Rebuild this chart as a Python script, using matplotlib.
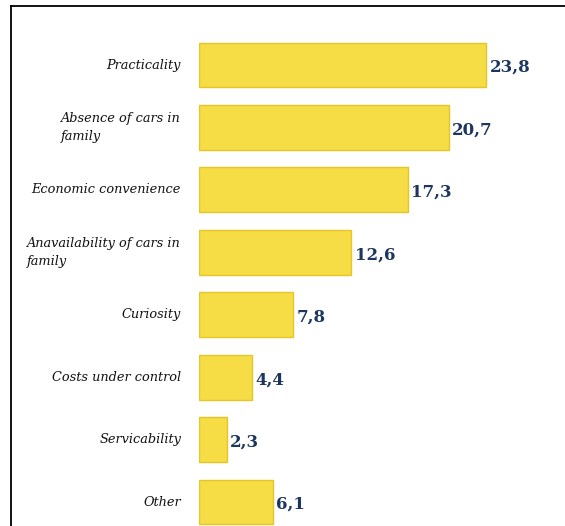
import matplotlib
matplotlib.use("Agg")
import matplotlib.pyplot as plt
from matplotlib.lines import Line2D

categories = [
    "Practicality",
    "Absence of cars in\nfamily",
    "Economic convenience",
    "Anavailability of cars in\nfamily",
    "Curiosity",
    "Costs under control",
    "Servicability",
    "Other",
]
values = [23.8, 20.7, 17.3, 12.6, 7.8, 4.4, 2.3, 6.1]
value_labels = ["23,8", "20,7", "17,3", "12,6", "7,8", "4,4", "2,3", "6,1"]

W, H = 565, 526
fig = plt.figure(figsize=(W / 100, H / 100), dpi=100)

# axes starts where the bars start; scale ~12.06 px per unit
x0 = 199
ax = fig.add_axes([x0 / W, 0, 1 - x0 / W, 1])
ax.set_xlim(0, (W - x0) / 12.06)
step, first = 62.43, 65
ax.set_ylim((H - first) / step, -first / step)
ax.axis("off")

ys = list(range(len(values)))
ax.barh(ys, values, height=0.72, color="#F6DC45", edgecolor="#E6C626", lw=1.0)

for y, v, lab in zip(ys, values, value_labels):
    ax.text(v + 0.3, y + 0.04, lab, ha="left", va="center", fontsize=12,
            fontweight="bold", family="DejaVu Serif", color="#1C3660")

# category labels, right edge just left of the bars
for y, cat in zip(ys, categories):
    ax.text(-18 / 12.06, y, cat, ha="right", va="center", multialignment="left",
            fontsize=9.3, style="italic", family="DejaVu Serif", color="#111111",
            linespacing=1.55)

# frame lines on the top and left only
fig.add_artist(Line2D([11 / W, 11 / W], [0, 1 - 6 / H], color="black", lw=1.3,
                      transform=fig.transFigure))
fig.add_artist(Line2D([11 / W, 1], [1 - 6 / H, 1 - 6 / H], color="black", lw=1.3,
                      transform=fig.transFigure))

fig.savefig("out.png", dpi=100)
